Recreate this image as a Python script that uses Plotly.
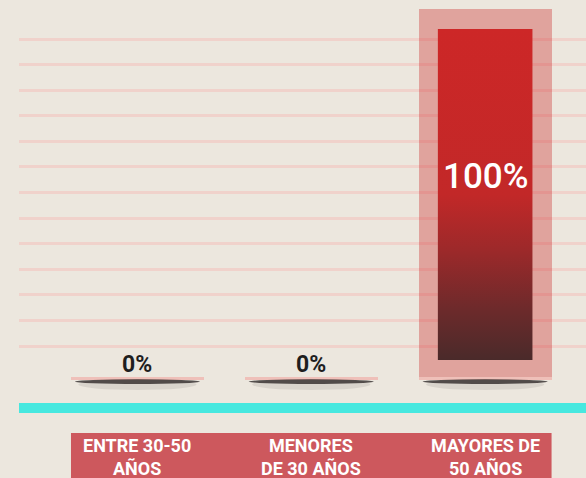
import plotly.graph_objects as go

categories = ['ENTRE 30-50<br>AÑOS', 'MENORES<br>DE 30 AÑOS', 'MAYORES DE<br>50 AÑOS']
values = [0, 0, 100]
value_labels = ['0%', '0%', '100%']

W, H = 586, 478
BASE_PX = 380            # pixel row of the 0% baseline
PX = 100 / 371           # data units per pixel (100% box is 371px tall)
Y_MIN = -(H - BASE_PX) * PX
Y_MAX = 100 + 9 * PX
X_MIN, X_MAX = -0.681, 2.580
BAR_W = 0.764
INNER_HALF = 0.272
INSET = 20 * PX

BG = '#ece7de'
FONT = 'Roboto, sans-serif'

x = list(range(len(categories)))

fig = go.Figure()

# outer translucent box of each bar
fig.add_trace(go.Bar(
    x=x, y=values, width=BAR_W,
    marker=dict(color='rgba(204,38,38,0.35)', line=dict(width=0)),
    hoverinfo='skip', showlegend=False,
))
# thin pink strip at the foot of each bar
fig.add_trace(go.Bar(
    x=x, y=[3 * PX] * len(x), width=BAR_W,
    marker=dict(color='#efc0b9', line=dict(width=0)),
    hoverinfo='skip', showlegend=False,
))

# inner gradient bar (scatter polygon so it can take a vertical gradient)
xs, ys = [], []
for i, v in zip(x, values):
    if v <= 0:
        continue
    x0, x1 = i - INNER_HALF, i + INNER_HALF
    y0, y1 = INSET, v - INSET
    xs += [x0, x1, x1, x0, x0, None]
    ys += [y0, y0, y1, y1, y0, None]
fig.add_trace(go.Scatter(
    x=xs, y=ys, mode='lines', fill='toself',
    line=dict(width=0, color='rgba(0,0,0,0)'),
    fillgradient=dict(type='vertical',
                      colorscale=[[0, '#4a2a2a'], [0.15, '#6c2a2b'], [0.33, '#9c292a'],
                                  [0.5, '#c22828'], [1, '#cd2727']]),
    hoverinfo='skip', showlegend=False,
))

shapes = []
# shadows under bars
for i in x:
    shapes.append(dict(type='circle', xref='x', yref='y', layer='above',
                       x0=i - 0.34, x1=i + 0.34, y0=-10 * PX, y1=1 * PX,
                       fillcolor='rgba(0,0,0,0.08)', line=dict(width=0)))
    shapes.append(dict(type='circle', xref='x', yref='y', layer='above',
                       x0=i - 0.36, x1=i + 0.36, y0=-4 * PX, y1=0.8 * PX,
                       fillcolor='rgba(35,30,30,0.75)', line=dict(width=0)))
# turquoise baseline
shapes.append(dict(type='rect', xref='paper', yref='y', layer='between',
                   x0=0, x1=1, y0=-(413 - BASE_PX) * PX, y1=-(403 - BASE_PX) * PX,
                   fillcolor='#47e8df', line=dict(width=0)))
# category label band
shapes.append(dict(type='rect', xref='x', yref='y', layer='between',
                   x0=-BAR_W / 2, x1=len(x) - 1 + BAR_W / 2,
                   y0=Y_MIN - 5, y1=-(433 - BASE_PX) * PX,
                   fillcolor='#cd585d', line=dict(width=0)))

annotations = []
for i, (cat, v, lab) in zip(x, zip(categories, values, value_labels)):
    annotations.append(dict(
        x=i, y=0, xref='x', yref='y', yshift=-(457 - BASE_PX), borderpad=0,
        text=cat, showarrow=False, yanchor='middle',
        font=dict(family=FONT, size=18, color='white', weight='bold'),
    ))
    if v > 0:
        annotations.append(dict(
            x=i, y=v / 2, xref='x', yref='y', yshift=18, text=lab, showarrow=False,
            yanchor='middle', font=dict(family=FONT, size=35, color='white', weight=500),
        ))
    else:
        annotations.append(dict(
            x=i, y=0, xref='x', yref='y', yshift=16, text=lab, showarrow=False,
            yanchor='middle', font=dict(family=FONT, size=23, color='#1e1e1e', weight='bold'),
        ))

grid_vals = [(BASE_PX - 346) * PX + k * 25.58 * PX for k in range(13)]

fig.update_layout(
    width=W, height=H,
    margin=dict(l=19, r=0, t=0, b=0),
    paper_bgcolor=BG, plot_bgcolor=BG,
    barmode='overlay', bargap=0,
    xaxis=dict(range=[X_MIN, X_MAX], showgrid=False, zeroline=False,
               showticklabels=False, showline=False, fixedrange=True),
    yaxis=dict(range=[Y_MIN, Y_MAX], tickmode='array', tickvals=grid_vals,
               showticklabels=False, showgrid=True, gridcolor='#f0d2cb', gridwidth=3,
               zeroline=False, showline=False, fixedrange=True),
    shapes=shapes,
    annotations=annotations,
    showlegend=False,
)

fig.write_html('out.html', config={'displayModeBar': False},
               post_script="document.body.style.margin='0';")
